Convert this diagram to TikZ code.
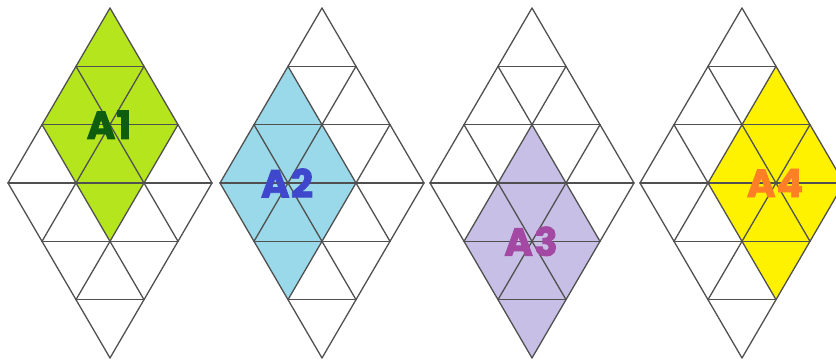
\documentclass[tikz,border=0pt]{standalone}
\usepackage{fontspec}
\newfontfamily\labfont{Poppins}[BoldFeatures={FakeBold=2.2}, LetterSpace=3]
\definecolor{gridc}{HTML}{505050}
\definecolor{limef}{HTML}{B5E61D}
\definecolor{bluef}{HTML}{99D9EA}
\definecolor{lavf}{HTML}{C8BFE7}
\definecolor{yelf}{HTML}{FFF200}
\definecolor{greent}{HTML}{0F5E0F}
\definecolor{bluet}{HTML}{3F48CC}
\definecolor{purt}{HTML}{A349A4}
\definecolor{oranget}{HTML}{FF7F27}
\tikzset{
  gridline/.style={draw=gridc, line width=1.3pt, line cap=round, line join=round},
  lab/.style={font=\labfont\bfseries\fontsize{39}{39}\selectfont, inner sep=0pt}
}
\begin{document}
\begin{tikzpicture}[x=1pt,y=-1pt]
\useasboundingbox (0,0) rectangle (836,361);
\clip (0,0) rectangle (836,361);
\def\hh{58.333}
% diamonds: top x, fill colour, label, i0, j0, text colour, name
\foreach \tx/\fc/\lbl/\io/\jo/\tc/\nm in {110/limef/A1/0/0/greent/d1, 322/bluef/A2/1/0/bluet/d2, 532/lavf/A3/1/1/purt/d3, 742/yelf/A4/0/1/oranget/d4}{
  % coloured rhombus
  \pgfmathsetmacro{\ia}{\io}\pgfmathsetmacro{\ja}{\jo}
  \pgfmathsetmacro{\ib}{\io+2}\pgfmathsetmacro{\jb}{\jo+2}
  \fill[\fc] ({\tx+34*(\ja-\ia)},{8+\hh*(\ia+\ja)}) -- ({\tx+34*(\ja-\ib)},{8+\hh*(\ib+\ja)}) -- ({\tx+34*(\jb-\ib)},{8+\hh*(\ib+\jb)}) -- ({\tx+34*(\jb-\ia)},{8+\hh*(\ia+\jb)}) -- cycle;
  % lines of constant i and constant j
  \foreach \k in {0,1,2,3}{
    \draw[gridline] ({\tx-34*\k},{8+\hh*\k}) -- ({\tx+34*(3-\k)},{8+\hh*(\k+3)});
    \draw[gridline] ({\tx+34*\k},{8+\hh*\k}) -- ({\tx-34*(3-\k)},{8+\hh*(\k+3)});
  }
  % horizontal lines
  \foreach \m in {1,2,3}{
    \draw[gridline] ({\tx-34*\m},{8+\hh*\m}) -- ({\tx+34*\m},{8+\hh*\m});
  }
  \foreach \m in {4,5}{
    \draw[gridline] ({\tx-34*(6-\m)},{8+\hh*\m}) -- ({\tx+34*(6-\m)},{8+\hh*\m});
  }
  \pgfmathsetmacro{\cx}{\tx+34*(\jo-\io)-1}
  \pgfmathsetmacro{\cy}{8+\hh*(\io+\jo+2)}
  \node[lab, text=\tc] (\nm) at (\cx,\cy) {\lbl};
}
\end{tikzpicture}
\end{document}
